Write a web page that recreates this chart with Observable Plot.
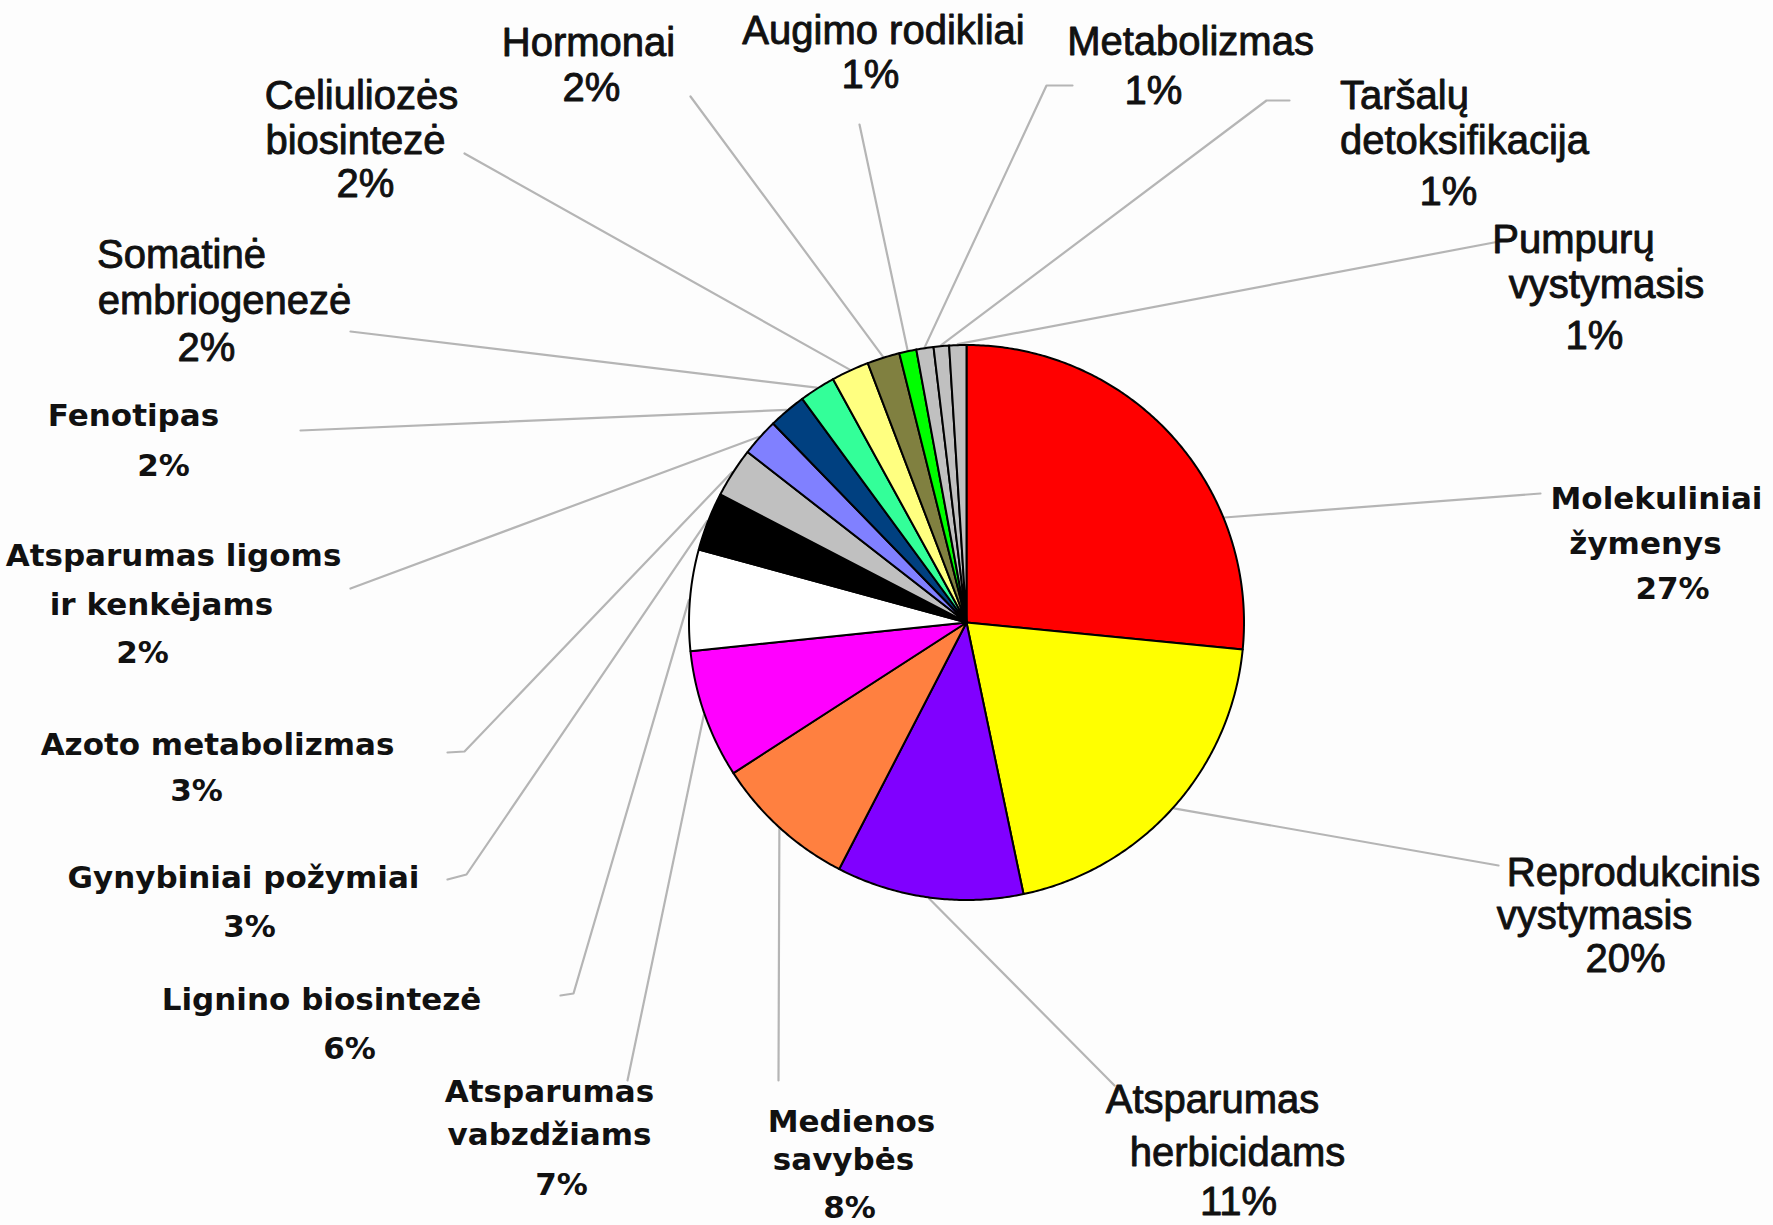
<!DOCTYPE html>
<html><head><meta charset="utf-8">
<script src="https://cdn.jsdelivr.net/npm/d3@7"></script>
<script src="https://cdn.jsdelivr.net/npm/@observablehq/plot@0.6"></script>
<style>
html,body{margin:0;padding:0;background:#fdfdfd;}
#chart svg{display:block;}
</style></head><body><div id="chart"></div>
<script>
// ---- data ----
const categories = [
  "Molekuliniai\nžymenys", "Reprodukcinis\nvystymasis", "Atsparumas\nherbicidams",
  "Medienos\nsavybės", "Atsparumas\nvabzdžiams", "Lignino biosintezė",
  "Gynybiniai požymiai", "Azoto metabolizmas", "Atsparumas ligoms\nir kenkėjams",
  "Fenotipas", "Somatinė\nembriogenezė", "Celiuliozės\nbiosintezė", "Hormonai",
  "Augimo rodikliai", "Metabolizmas", "Taršalų\ndetoksifikacija", "Pumpurų\nvystymasis"
];
const shares = [26.6, 20.2, 10.9, 8.3, 7.5, 5.9, 3.4, 2.9, 2.2, 2.2, 2.1, 2.2, 1.9, 1.0, 1.0, 0.9, 1.0];
const percentLabels = ["27%","20%","11%","8%","7%","6%","3%","3%","2%","2%","2%","2%","2%","1%","1%","1%","1%"];
const sliceColors = ["#ff0000","#ffff00","#8000ff","#ff8040","#ff00ff","#ffffff","#000000","#c0c0c0",
  "#8080ff","#004080","#33ff99","#ffff80","#808040","#00ff00","#c0c0c0","#c0c0c0","#c0c0c0"];

// ---- layout (reference pixel frame) ----
const W = 1773, H = 1225;
const pieGeom = {cx: 966, cy: 622, r: 277.5};
const labelLayout = [
  {pos: [[1656,499],[1645,544],[1672,589]], leader: [[1540,493]], at: 0.71, font: "v"},
  {pos: [[1633,873],[1594,916],[1625,959]], leader: [[1498,865]], font: "a"},
  {pos: [[1212,1100],[1237,1153],[1238,1202]], leader: [[1114,1085]], font: "a"},
  {pos: [[851,1122],[843,1160],[849,1208]], leader: [[778,1080]], font: "v"},
  {pos: [[549,1092],[549,1135],[561,1185]], leader: [[627,1080]], font: "v"},
  {pos: [[321,1000],[349,1049]], leader: [[573,993],[560,995]], font: "v"},
  {pos: [[243,878],[249,927]], leader: [[466,874],[447,879]], font: "v"},
  {pos: [[217,745],[196,791]], leader: [[464,751],[447,752]], font: "v"},
  {pos: [[173,556],[161,605],[142,653]], leader: [[350,588]], font: "v"},
  {pos: [[133,416],[163,466]], leader: [[300,430]], font: "v"},
  {pos: [[181,255],[224,301],[206,348]], leader: [[350,331]], font: "a"},
  {pos: [[361,96],[355,141],[365,184]], leader: [[464,153]], font: "a"},
  {pos: [[588,43],[591,88]], leader: [[690,96]], font: "a"},
  {pos: [[883,31],[870,75]], leader: [[859,124]], font: "a"},
  {pos: [[1190,42],[1153,91]], leader: [[1046,85],[1072,85]], font: "a"},
  {pos: [[1404,96],[1464,141],[1448,192]], leader: [[1266,100],[1289,100]], font: "a"},
  {pos: [[1573,240],[1606,285],[1594,336]], leader: [[1504,240]], font: "a"}
];

// ---- build geometry from data ----
const arcs = d3.pie().sort(null).value(d => d)(shares);
const rimPoint = (a, r = pieGeom.r) => ({x: pieGeom.cx + r * Math.sin(a), y: pieGeom.cy - r * Math.cos(a)});

const slicePts = [];
arcs.forEach((a, i) => {
  const n = Math.max(2, Math.ceil((a.endAngle - a.startAngle) / (Math.PI / 360)));
  slicePts.push({k: i, x: pieGeom.cx, y: pieGeom.cy, c: sliceColors[i]});
  for (let j = 0; j <= n; j++) {
    const p = rimPoint(a.startAngle + (a.endAngle - a.startAngle) * j / n);
    slicePts.push({k: i, x: p.x, y: p.y, c: sliceColors[i]});
  }
});

const leaderPts = [];
arcs.forEach((a, i) => {
  const L = labelLayout[i];
  const f = L.at ?? 0.5;
  const p = rimPoint(a.startAngle + (a.endAngle - a.startAngle) * f, pieGeom.r + 1);
  leaderPts.push({k: i, x: p.x, y: p.y});
  L.leader.forEach(q => leaderPts.push({k: i, x: q[0], y: q[1]}));
});

const textRows = [];
categories.forEach((c, i) => {
  const lines = c.split("\n").concat(percentLabels[i]);
  lines.forEach((t, j) => {
    const p = labelLayout[i].pos[j];
    textRows.push({t, x: p[0], y: p[1], font: labelLayout[i].font});
  });
});

const chart = Plot.plot({
  width: W, height: H,
  margin: 0,
  style: {background: "#fdfdfd"},
  x: {domain: [0, W], axis: null},
  y: {domain: [0, H], reverse: true, axis: null},
  color: {type: "identity"},
  marks: [
    Plot.line(leaderPts, {x: "x", y: "y", z: "k", stroke: "#b5b5b5", strokeWidth: 2.2}),
    Plot.line(slicePts, {x: "x", y: "y", z: "k", fill: "c", stroke: "#000", strokeWidth: 2,
      strokeLinejoin: "round", curve: "linear-closed"}),
    Plot.text(textRows.filter(d => d.font === "a"), {x: "x", y: "y", text: "t",
      fontFamily: "'Liberation Sans', Arial, sans-serif", fontSize: 40, fill: "#111",
      stroke: "#111", strokeWidth: 0.9, paintOrder: "stroke",
      textAnchor: "middle", lineAnchor: "middle"}),
    Plot.text(textRows.filter(d => d.font === "v"), {x: "x", y: "y", text: "t",
      fontFamily: "'DejaVu Sans', Verdana, sans-serif", fontWeight: "bold", fontSize: 31, fill: "#111",
      textAnchor: "middle", lineAnchor: "middle"})
  ]
});
document.getElementById("chart").appendChild(chart);
</script></body></html>
